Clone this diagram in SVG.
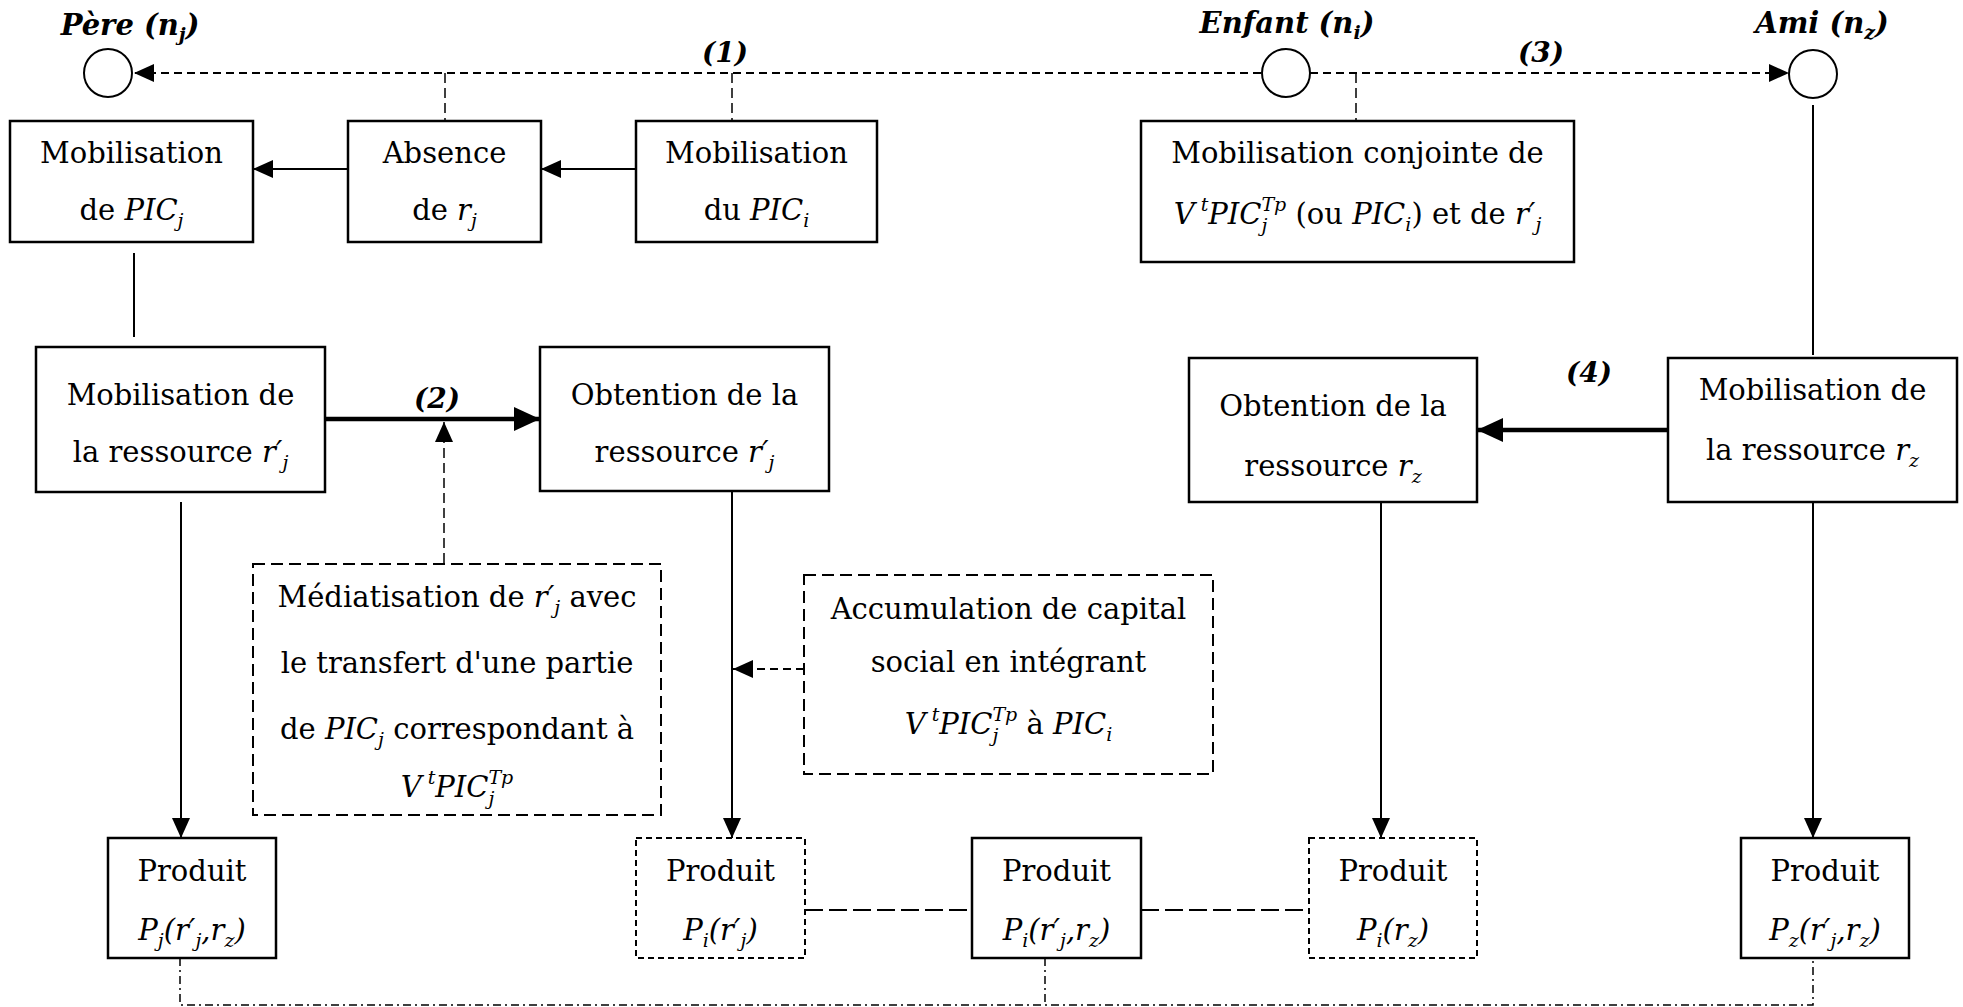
<svg xmlns="http://www.w3.org/2000/svg" width="1963" height="1007" viewBox="0 0 1963 1007">
<style>
.t{font-family:"DejaVu Serif","Liberation Serif",serif;font-size:29px;fill:#000;text-anchor:middle}
.i{font-style:italic}
.sub{font-size:19px}
.sup{font-size:19px}
.lbl{font-family:"DejaVu Serif","Liberation Serif",serif;font-weight:bold;font-style:italic;font-size:28px;fill:#000;text-anchor:middle}
.nlbl{font-size:29px}
.box{fill:#fff;stroke:#000;stroke-width:2.5}
.dbox{fill:#fff;stroke:#000;stroke-width:2;stroke-dasharray:12 6}
.pbox{fill:#fff;stroke:#000;stroke-width:2;stroke-dasharray:6 4}
.node{fill:#fff;stroke:#000;stroke-width:2}
.ln{fill:none;stroke:#000;stroke-width:2}
.thick{fill:none;stroke:#000;stroke-width:4.5}
.dash{fill:none;stroke:#000;stroke-width:2;stroke-dasharray:8 5}
.vdash{fill:none;stroke:#000;stroke-width:1.5;stroke-dasharray:10 5}
.ldash{fill:none;stroke:#000;stroke-width:2;stroke-dasharray:18 6}
.dashdot{fill:none;stroke:#000;stroke-width:1.5;stroke-dasharray:8 4 2 4}
</style>
<defs>
<marker id="ah" markerWidth="20" markerHeight="18" refX="20" refY="9" orient="auto" markerUnits="userSpaceOnUse"><path d="M0,0 L20,9 L0,18 z" fill="#000"/></marker>
<marker id="ahb" markerWidth="26" markerHeight="24" refX="26" refY="12" orient="auto" markerUnits="userSpaceOnUse"><path d="M0,0 L26,12 L0,24 z" fill="#000"/></marker>
</defs>

<g id="connectors">
<path class="dash" d="M1261,73 H134" marker-end="url(#ah)"/>
<path class="dash" d="M1310,73 H1789" marker-end="url(#ah)"/>
<path class="vdash" d="M445,73 V121"/>
<path class="vdash" d="M732,73 V121"/>
<path class="vdash" d="M1356,73 V121"/>
<path class="ln" d="M636,169 H541" marker-end="url(#ah)"/>
<path class="ln" d="M348,169 H253" marker-end="url(#ah)"/>
<path class="ln" d="M134,253 V337"/>
<path class="ln" d="M1813,105 V355"/>
<path class="thick" d="M325,419 H540" marker-end="url(#ahb)"/>
<path class="vdash" d="M444,563 V422" marker-end="url(#ah)"/>
<path class="ln" d="M181,502 V838" marker-end="url(#ah)"/>
<path class="ln" d="M732,491 V838" marker-end="url(#ah)"/>
<path class="dash" d="M804,669 H733" marker-end="url(#ah)"/>
<path class="thick" d="M1668,430 H1477" marker-end="url(#ahb)"/>
<path class="ln" d="M1381,502 V838" marker-end="url(#ah)"/>
<path class="ln" d="M1813,502 V838" marker-end="url(#ah)"/>
<path class="ldash" d="M805,910 H972"/>
<path class="ldash" d="M1141,910 H1309"/>
<path class="dashdot" d="M180,958 V1005 H1813 V958"/>
<path class="dashdot" d="M1045,958 V1005"/>
<text class="lbl" x="725" y="62">(1)</text>
<text class="lbl" x="1541" y="62">(3)</text>
<text class="lbl" x="437" y="408">(2)</text>
<text class="lbl" x="1589" y="382">(4)</text>
</g>

<g id="pere">
<circle class="node" cx="108" cy="73" r="24"/>
<text class="lbl nlbl" x="130" y="35">Père (n<tspan class="sub" dy="6">j</tspan><tspan dy="-6">)</tspan></text>
</g>
<g id="enfant">
<circle class="node" cx="1286" cy="73" r="24"/>
<text class="lbl nlbl" x="1287" y="33">Enfant (n<tspan class="sub" dy="6">i</tspan><tspan dy="-6">)</tspan></text>
</g>
<g id="ami">
<circle class="node" cx="1813" cy="74" r="24"/>
<text class="lbl nlbl" x="1822" y="33">Ami (n<tspan class="sub" dy="6">z</tspan><tspan dy="-6">)</tspan></text>
</g>

<g id="mob-pic-j">
<rect class="box" x="10" y="121" width="243" height="121"/>
<text class="t" x="131.5" y="163">Mobilisation</text>
<text class="t" x="131.5" y="220">de <tspan class="i">PIC</tspan><tspan class="i sub" dy="7">j</tspan></text>
</g>
<g id="absence-rj">
<rect class="box" x="348" y="121" width="193" height="121"/>
<text class="t" x="444.5" y="163">Absence</text>
<text class="t" x="444.5" y="220">de <tspan class="i">r</tspan><tspan class="i sub" dy="7">j</tspan></text>
</g>
<g id="mob-pic-i">
<rect class="box" x="636" y="121" width="241" height="121"/>
<text class="t" x="756.5" y="163">Mobilisation</text>
<text class="t" x="756.5" y="220">du <tspan class="i">PIC</tspan><tspan class="i sub" dy="7">i</tspan></text>
</g>
<g id="mob-conjointe">
<rect class="box" x="1141" y="121" width="433" height="141"/>
<text class="t" x="1357.5" y="163">Mobilisation conjointe de</text>
<text class="t" x="1357.5" y="224"><tspan class="i">V</tspan><tspan class="i sup" dy="-13"> t</tspan><tspan class="i" dy="13">PIC</tspan><tspan class="i sub" dy="8">j</tspan><tspan class="i sup" dx="-6" dy="-21">Tp</tspan><tspan dy="13"> (ou </tspan><tspan class="i">PIC</tspan><tspan class="i sub" dy="7">i</tspan><tspan dy="-7">) et de </tspan><tspan class="i">r′</tspan><tspan class="i sub" dy="7">j</tspan></text>
</g>

<g id="mob-r-j">
<rect class="box" x="36" y="347" width="289" height="145"/>
<text class="t" x="180.5" y="405">Mobilisation de</text>
<text class="t" x="180.5" y="462">la ressource <tspan class="i">r′</tspan><tspan class="i sub" dy="7">j</tspan></text>
</g>
<g id="obt-r-j">
<rect class="box" x="540" y="347" width="289" height="144"/>
<text class="t" x="684.5" y="405">Obtention de la</text>
<text class="t" x="684.5" y="462">ressource <tspan class="i">r′</tspan><tspan class="i sub" dy="7">j</tspan></text>
</g>
<g id="obt-r-z">
<rect class="box" x="1189" y="358" width="288" height="144"/>
<text class="t" x="1333" y="416">Obtention de la</text>
<text class="t" x="1333" y="476">ressource <tspan class="i">r</tspan><tspan class="i sub" dy="7">z</tspan></text>
</g>
<g id="mob-r-z">
<rect class="box" x="1668" y="358" width="289" height="144"/>
<text class="t" x="1812.5" y="400">Mobilisation de</text>
<text class="t" x="1812.5" y="460">la ressource <tspan class="i">r</tspan><tspan class="i sub" dy="7">z</tspan></text>
</g>

<g id="mediatisation">
<rect class="dbox" x="253" y="564" width="408" height="251"/>
<text class="t" x="457" y="607">Médiatisation de <tspan class="i">r′</tspan><tspan class="i sub" dy="7">j</tspan><tspan dy="-7"> avec</tspan></text>
<text class="t" x="457" y="673">le transfert d'une partie</text>
<text class="t" x="457" y="739">de <tspan class="i">PIC</tspan><tspan class="i sub" dy="7">j</tspan><tspan dy="-7"> correspondant à</tspan></text>
<text class="t" x="457" y="797"><tspan class="i">V</tspan><tspan class="i sup" dy="-13"> t</tspan><tspan class="i" dy="13">PIC</tspan><tspan class="i sub" dy="8">j</tspan><tspan class="i sup" dx="-6" dy="-21">Tp</tspan></text>
</g>
<g id="accumulation">
<rect class="dbox" x="804" y="575" width="409" height="199"/>
<text class="t" x="1008.5" y="619">Accumulation de capital</text>
<text class="t" x="1008.5" y="672">social en intégrant</text>
<text class="t" x="1008.5" y="734"><tspan class="i">V</tspan><tspan class="i sup" dy="-13"> t</tspan><tspan class="i" dy="13">PIC</tspan><tspan class="i sub" dy="8">j</tspan><tspan class="i sup" dx="-6" dy="-21">Tp</tspan><tspan dy="13"> à </tspan><tspan class="i">PIC</tspan><tspan class="i sub" dy="7">i</tspan></text>
</g>

<g id="produit-j">
<rect class="box" x="108" y="838" width="168" height="120"/>
<text class="t" x="192" y="881">Produit</text>
<text class="t i" x="192" y="940">P<tspan class="sub" dy="7">j</tspan><tspan dy="-7">(r′</tspan><tspan class="sub" dy="7">j</tspan><tspan dy="-7">,r</tspan><tspan class="sub" dy="7">z</tspan><tspan dy="-7">)</tspan></text>
</g>
<g id="produit-i-rj">
<rect class="pbox" x="636" y="838" width="169" height="120"/>
<text class="t" x="720.5" y="881">Produit</text>
<text class="t i" x="720.5" y="940">P<tspan class="sub" dy="7">i</tspan><tspan dy="-7">(r′</tspan><tspan class="sub" dy="7">j</tspan><tspan dy="-7">)</tspan></text>
</g>
<g id="produit-i-rj-rz">
<rect class="box" x="972" y="838" width="169" height="120"/>
<text class="t" x="1056.5" y="881">Produit</text>
<text class="t i" x="1056.5" y="940">P<tspan class="sub" dy="7">i</tspan><tspan dy="-7">(r′</tspan><tspan class="sub" dy="7">j</tspan><tspan dy="-7">,r</tspan><tspan class="sub" dy="7">z</tspan><tspan dy="-7">)</tspan></text>
</g>
<g id="produit-i-rz">
<rect class="pbox" x="1309" y="838" width="168" height="120"/>
<text class="t" x="1393" y="881">Produit</text>
<text class="t i" x="1393" y="940">P<tspan class="sub" dy="7">i</tspan><tspan dy="-7">(r</tspan><tspan class="sub" dy="7">z</tspan><tspan dy="-7">)</tspan></text>
</g>
<g id="produit-z">
<rect class="box" x="1741" y="838" width="168" height="120"/>
<text class="t" x="1825" y="881">Produit</text>
<text class="t i" x="1825" y="940">P<tspan class="sub" dy="7">z</tspan><tspan dy="-7">(r′</tspan><tspan class="sub" dy="7">j</tspan><tspan dy="-7">,r</tspan><tspan class="sub" dy="7">z</tspan><tspan dy="-7">)</tspan></text>
</g>
</svg>
